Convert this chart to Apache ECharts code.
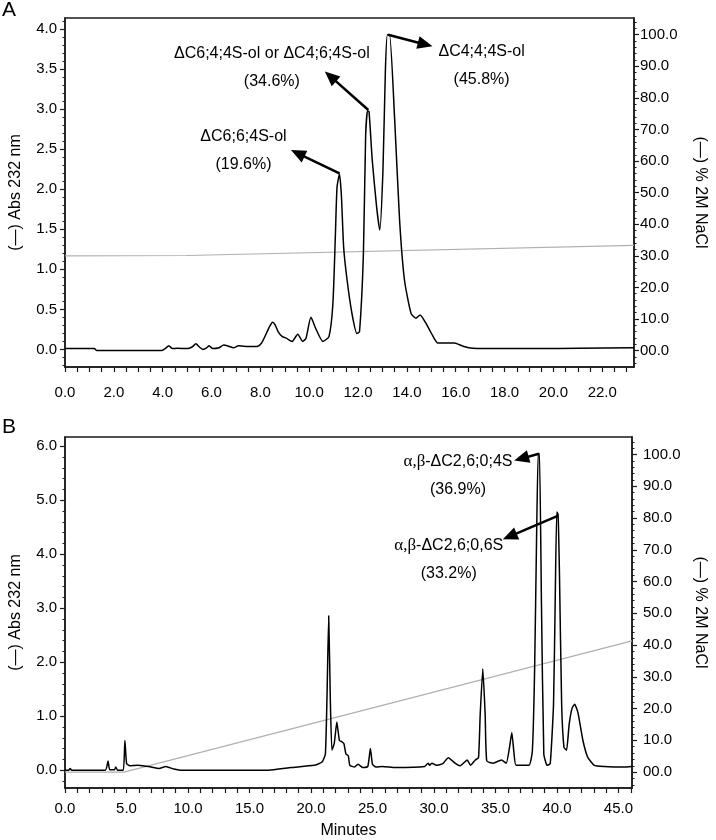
<!DOCTYPE html>
<html>
<head>
<meta charset="utf-8">
<script src="https://cdn.jsdelivr.net/npm/echarts@6/dist/echarts.min.js"></script>
<style>
  html, body { margin: 0; padding: 0; background: #fff; }
  #chart { width: 716px; height: 840px; }
</style>
</head>
<body>
<div id="chart"></div>
<script>
// Panel A: retention time (min) vs absorbance at 232 nm
const timeA = [0, 1.2, 1.3, 3.95, 4.1, 4.25, 4.4, 4.6, 5.0, 5.2, 5.36, 5.5, 5.65, 5.8, 5.9, 6.05, 6.3, 6.5, 6.7, 6.9,
  7.1, 7.3, 7.6, 7.9, 8.05, 8.2, 8.35, 8.5, 8.6, 8.73, 8.9, 9.06, 9.3, 9.53, 9.73, 9.87, 10.07, 10.27, 10.56, 10.81,
  10.97, 11.07, 11.14, 11.24, 11.32, 11.41, 11.55, 11.75, 11.95, 12.06, 12.22, 12.31, 12.39, 12.45, 12.58, 12.76,
  12.89, 13.02, 13.12, 13.2, 13.29, 13.5, 13.7, 13.9, 14.17, 14.37, 14.54, 14.77, 15.04, 15.27, 15.65, 15.95, 16.3,
  16.7, 18.0, 19.5, 21.0, 23.3];
const absA = [0.01, 0.01, -0.015, -0.015, 0.01, 0.045, 0.01, 0.015, 0.01, 0.03, 0.07, 0.03, 0.0, 0.02, 0.045, 0.01,
  0.02, 0.055, 0.04, 0.02, 0.045, 0.04, 0.035, 0.04, 0.08, 0.17, 0.27, 0.34, 0.31, 0.22, 0.16, 0.14, 0.10, 0.19, 0.10,
  0.14, 0.40, 0.26, 0.10, 0.16, 0.57, 1.41, 2.03, 2.19, 1.91, 1.28, 0.87, 0.45, 0.20, 0.22, 1.2, 2.66, 2.98, 2.97,
  2.37, 1.78, 1.49, 2.24, 3.49, 3.93, 3.93, 2.87, 1.62, 0.87, 0.45, 0.39, 0.43, 0.33, 0.18, 0.08, 0.08, 0.08, 0.04,
  0.015, 0.01, 0.01, 0.015, 0.02];
// Panel A: % 2M NaCl
const gradTimeA = [0, 5, 23.3];
const gradA = [30.0, 30.1, 33.3];

// Panel B
const timeB = [0, 0.3, 0.42, 0.55, 3.28, 3.5, 3.63, 4.03, 4.13, 4.27, 4.74, 4.87, 5.01, 5.27, 5.94, 6.33, 7.0, 7.65,
  8.19, 8.85, 9.38, 16.53, 18.39, 20.25, 20.9, 21.17, 21.3, 21.44, 21.57, 21.7, 21.89, 22.1, 22.31, 22.5, 22.68, 22.84,
  23.03, 23.16, 23.55, 23.82, 24.22, 24.62, 24.83, 25.0, 25.28, 25.81, 26.87, 29.25, 29.52, 29.65, 29.83, 30.18, 30.71,
  31.16, 31.77, 32.11, 32.7, 32.97, 33.36, 33.62, 33.76, 33.97, 34.16, 34.29, 34.82, 35.48, 35.88, 36.14, 36.33, 36.49,
  36.67, 37.73, 38.0, 38.18, 38.34, 38.47, 38.58, 38.74, 38.93, 39.19, 39.45, 39.72, 39.85, 39.98, 40.09, 40.2, 40.38,
  40.57, 40.78, 40.99, 41.23, 41.44, 41.71, 42.11, 42.5, 43.03, 43.83, 45.41, 46.1];
const absB = [0.0, 0.0, 0.03, 0.0, 0.0, 0.17, 0.01, 0.01, 0.06, 0.0, 0.0, 0.55, 0.12, 0.08, 0.09, 0.08, 0.06, 0.03,
  0.07, 0.02, 0.0, 0.0, 0.05, 0.09, 0.15, 0.3, 1.34, 2.86, 1.34, 0.37, 0.49, 0.89, 0.55, 0.53, 0.49, 0.30, 0.27, 0.09,
  0.06, 0.11, 0.05, 0.07, 0.40, 0.11, 0.06, 0.07, 0.05, 0.07, 0.13, 0.09, 0.13, 0.09, 0.12, 0.23, 0.12, 0.08, 0.19,
  0.09, 0.19, 0.23, 1.04, 1.88, 1.04, 0.17, 0.13, 0.19, 0.13, 0.42, 0.70, 0.35, 0.09, 0.09, 0.36, 1.83, 4.28, 5.86,
  5.86, 3.05, 0.30, 0.09, 0.12, 1.22, 3.05, 4.78, 4.74, 3.67, 1.22, 0.42, 0.37, 0.85, 1.15, 1.22, 1.06, 0.55, 0.24,
  0.09, 0.07, 0.06, 0.07];
const gradTimeB = [0, 4.8, 46.1];
const gradB = [0, 0, 41.3];

// tick labels
const xLabelsA = [0, 2, 4, 6, 8, 10, 12, 14, 16, 18, 20, 22];
const xLabelsB = [0, 5, 10, 15, 20, 25, 30, 35, 40, 45];
const absLabelsA = [0, 0.5, 1, 1.5, 2, 2.5, 3, 3.5, 4];
const absLabelsB = [0, 1, 2, 3, 4, 5, 6];
const naclLabels = [0, 10, 20, 30, 40, 50, 60, 70, 80, 90, 100];

// peak annotations (data coords); arrow ends sit at the centre of the head
const notesA = [
  { text: 'ΔC6;6;4S-ol\n(19.6%)', at: [7.31, 2.485] },
  { text: 'ΔC6;4;4S-ol or ΔC4;6;4S-ol\n(34.6%)', at: [8.47, 3.52] },
  { text: 'ΔC4;4;4S-ol\n(45.8%)', at: [17.06, 3.55] }
];
const arrowsA = [
  [[11.24, 2.2], [9.53, 2.45]],
  [[12.42, 2.99], [10.87, 3.41]],
  [[13.23, 3.93], [14.75, 3.81]]
];
const notesB = [
  { text: '{g|α,β}-ΔC2,6;0;4S\n(36.9%)', at: [31.95, 5.46] },
  { text: '{g|α,β}-ΔC2,6;0,6S\n(33.2%)', at: [31.2, 3.90] }
];
const arrowsB = [
  [[38.53, 5.86], [37.11, 5.77]],
  [[40.06, 4.71], [36.16, 4.33]]
];

const FONT = '"Liberation Sans", Arial, sans-serif';
const INK = '#1a1a1a';

const range = (a, b, step) => {
  const out = [];
  for (let v = a; v <= b + 1e-9; v += step) out.push(+v.toFixed(3));
  return out;
};
const pairs = (xs, ys) => xs.map((x, i) => [x, ys[i]]);
const oneDec = v => v.toFixed(1);
const naclFmt = v => (v === 0 ? '00.0' : v.toFixed(1));

function xAxisFor(gridIndex, max, labels, ticks, margin, name) {
  return {
    type: 'value', gridIndex, min: 0, max,
    name, nameLocation: 'middle', nameGap: 35,
    nameTextStyle: { fontFamily: FONT, fontSize: 16, color: '#000' },
    axisLine: { show: true, onZero: false, lineStyle: { color: INK, width: 1.5 } },
    axisTick: { show: true, customValues: ticks, length: 5, lineStyle: { color: INK, width: 1.2 } },
    axisLabel: { customValues: labels, formatter: oneDec, margin, fontFamily: FONT, fontSize: 15, color: '#000' },
    splitLine: { show: false }
  };
}

function yAxisFor(gridIndex, position, min, max, labels, fmt, margin, name, nameGap) {
  return {
    type: 'value', gridIndex, position, min, max,
    name, nameLocation: 'middle', nameGap,
    nameRotate: position === 'left' ? 90 : -90,
    nameTextStyle: { fontFamily: FONT, fontSize: 16, color: '#000' },
    axisLine: { show: true, onZero: false, lineStyle: { color: INK, width: 1.5 } },
    axisTick: { show: true, customValues: labels, length: 5, lineStyle: { color: INK, width: 1.2 } },
    axisLabel: { customValues: labels, formatter: fmt, margin, fontFamily: FONT, fontSize: 15, color: '#000' },
    splitLine: { show: false }
  };
}

// extra axis that only carries the small ticks
function minorAxis(gridIndex, position, min, max, ticks) {
  return {
    type: 'value', gridIndex, position, min, max,
    axisLine: { show: false },
    axisTick: { show: true, customValues: ticks, length: 2.5, lineStyle: { color: INK, width: 1 } },
    axisLabel: { show: false },
    splitLine: { show: false }
  };
}

function arrowLines(list) {
  return {
    silent: true, animation: false,
    symbol: ['none', 'triangle'], symbolSize: [13, 15],
    lineStyle: { color: '#000', width: 2.5, type: 'solid' },
    itemStyle: { color: '#000' },
    label: { show: false },
    emphasis: { disabled: true },
    data: list.map(a => [{ coord: a[0] }, { coord: a[1] }])
  };
}

function noteLabels(list) {
  return {
    silent: true, animation: false,
    symbol: 'circle', symbolSize: 1,
    itemStyle: { color: 'rgba(0,0,0,0)' },
    label: {
      show: true, position: 'inside', formatter: p => p.name,
      fontFamily: FONT, fontSize: 16, color: '#000', lineHeight: 28, align: 'center',
      rich: { g: { fontFamily: '"Liberation Serif", "DejaVu Serif", serif', fontSize: 17, lineHeight: 28, color: '#000' } }
    },
    data: list.map(n => ({ name: n.text, coord: n.at }))
  };
}

const chart = echarts.init(document.getElementById('chart'));
chart.setOption({
  animation: false,
  backgroundColor: '#fff',
  title: [
    { text: 'A', left: 2, top: 0, padding: 0, textStyle: { fontFamily: FONT, fontSize: 21, fontWeight: 'normal', color: '#000' } },
    { text: 'B', left: 2, top: 417, padding: 0, textStyle: { fontFamily: FONT, fontSize: 21, fontWeight: 'normal', color: '#000' } }
  ],
  grid: [
    { left: 62, top: 18, width: 578, height: 349, show: true, borderColor: INK, borderWidth: 1.5, backgroundColor: 'transparent' },
    { left: 62, top: 437, width: 580, height: 354, show: true, borderColor: INK, borderWidth: 1.5, backgroundColor: 'transparent' }
  ],
  xAxis: [
    xAxisFor(0, 23.3, xLabelsA, range(0, 23, 0.5), 18, ''),
    xAxisFor(1, 46.1, xLabelsB, range(0, 46, 1), 13, 'Minutes')
  ],
  yAxis: [
    yAxisFor(0, 'left', -0.22, 4.14, absLabelsA, oneDec, 8, '(—) Abs 232 nm', 41),
    yAxisFor(0, 'right', -5.2, 105.3, naclLabels, naclFmt, 6, '(—) % 2M NaCl', 58),
    minorAxis(0, 'left', -0.22, 4.14, range(-0.2, 4.1, 0.1)),
    minorAxis(0, 'right', -5.2, 105.3, range(-4, 104, 2)),
    yAxisFor(1, 'left', -0.33, 6.17, absLabelsB, oneDec, 8, '(—) Abs 232 nm', 41),
    yAxisFor(1, 'right', -5.0, 105.5, naclLabels, naclFmt, 11, '(—) % 2M NaCl', 60),
    minorAxis(1, 'left', -0.33, 6.17, range(-0.2, 6.0, 0.2)),
    minorAxis(1, 'right', -5.0, 105.5, range(-4, 104, 2))
  ],
  series: [
    {
      type: 'line', xAxisIndex: 0, yAxisIndex: 1, data: pairs(gradTimeA, gradA),
      showSymbol: false, silent: true, lineStyle: { color: '#b0b0b0', width: 1.2 }, z: 2
    },
    {
      type: 'line', xAxisIndex: 0, yAxisIndex: 0, data: pairs(timeA, absA),
      showSymbol: false, silent: true, smooth: 0.2, lineStyle: { color: '#000', width: 1.5 }, z: 3,
      markLine: arrowLines(arrowsA),
      markPoint: noteLabels(notesA)
    },
    {
      type: 'line', xAxisIndex: 1, yAxisIndex: 5, data: pairs(gradTimeB, gradB),
      showSymbol: false, silent: true, lineStyle: { color: '#b0b0b0', width: 1.2 }, z: 2
    },
    {
      type: 'line', xAxisIndex: 1, yAxisIndex: 4, data: pairs(timeB, absB),
      showSymbol: false, silent: true, smooth: 0.15, lineStyle: { color: '#000', width: 1.5 }, z: 3,
      markLine: arrowLines(arrowsB),
      markPoint: noteLabels(notesB)
    }
  ]
});
</script>
</body>
</html>
